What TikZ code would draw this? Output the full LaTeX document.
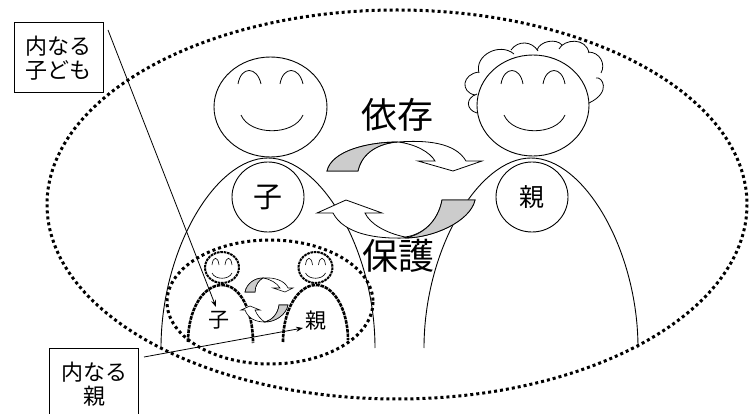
\documentclass[tikz,border=0pt]{standalone}
\usepackage{fontspec}
\setmainfont{Noto Sans CJK JP}
\usetikzlibrary{arrows.meta,shapes.geometric}
\tikzset{
  ink/.style={draw=black,line width=0.9pt},
  faceline/.style={draw=black,line width=0.8pt},
  dots/.style={draw=black,line width=3pt,dash pattern=on 3pt off 3pt},
  dashedbody/.style={draw=black,line width=2.6pt,dash pattern=on 3.6pt off 0.9pt},
  dashedhead/.style={draw=black,line width=2pt,dash pattern=on 2.6pt off 0.8pt},
  wordtag/.style={inner sep=0pt,align=center},
  corecircle/.style={draw=black,line width=0.9pt,fill=white,ellipse,minimum width=72pt,minimum height=70pt,inner sep=0pt},
  captionbox/.style={draw=black,line width=1pt,fill=white,anchor=north west,inner sep=0pt,align=center,
    minimum width=89pt,font=\fontsize{22}{23.5}\selectfont},
  turnfill/.style={fill=white,draw=black,line width=0.8pt,line join=miter},
  turnshade/.style={fill=black!20,draw=black,line width=0.8pt},
  pointer/.style={draw=black,line width=0.8pt,-{Stealth[length=7pt,width=5pt]}}
}
\begin{document}
\begin{tikzpicture}[x=1pt,y=-1pt]
\useasboundingbox (0,0) rectangle (752,414);
\clip (0,0) rectangle (752,414);

% outer boundary of the relationship
\draw[dots] (397,204.5) ellipse [x radius=350,y radius=194.5];

% child: body, chest circle and head
\draw[ink] (161,348) .. controls (161,250) and (215,158) .. (268,158)
  .. controls (321,158) and (375,250) .. (375,348);
\node[corecircle] (childcore) at (268,197) {};
\draw[ink,fill=white] (270.5,107) ellipse [x radius=56.5,y radius=50];
\draw[faceline] (238,84) .. controls (241,66) and (257,66) .. (261,84);
\draw[faceline] (280,84) .. controls (283,66) and (299,66) .. (303,84);
\draw[faceline] (241,115) .. controls (250,136) and (294,136) .. (303,115);

% parent: body, chest circle, hair and head
\draw[ink] (424,348) .. controls (424,250) and (478,158) .. (531,158)
  .. controls (584,158) and (638,250) .. (638,348);
\node[corecircle] (parentcore) at (532,197) {};
\draw[faceline] (477,113) .. controls (466,110) and (465,98) .. (477,94);
\draw[faceline] (475,95) .. controls (460,92) and (462,74) .. (479,72);
\draw[faceline] (479,73) .. controls (474,55) and (500,42) .. (514,54);
\draw[faceline] (511,50) .. controls (518,40) and (532,41) .. (538,51);
\draw[faceline] (537,50) .. controls (540,41) and (556,38) .. (562,45);
\draw[faceline] (559,49) .. controls (564,39) and (586,37) .. (589,53);
\draw[faceline] (588,52) .. controls (600,52) and (606,64) .. (601,73);
\draw[faceline] (596,78) .. controls (602,76) and (612,92) .. (589,103);
\draw[ink,fill=white] (533,105.5) ellipse [x radius=56,y radius=50.5];
\draw[faceline] (501,84) .. controls (504,66) and (520,66) .. (523,84);
\draw[faceline] (543,84) .. controls (546,66) and (562,66) .. (565,84);
\draw[faceline] (504,115) .. controls (513,136) and (556,136) .. (565,115);

% dependence arrow, upper
\path[turnfill] (327,171) .. controls (332,150) and (370,142) .. (398,142)
  .. controls (425,140) and (455,142) .. (466,161)
  -- (482,161) -- (453,171) -- (418,161) -- (435,161)
  .. controls (430,152) and (415,144) .. (398,142)
  .. controls (380,143) and (362,152) .. (358,171) -- cycle;
\path[turnshade] (327,171) .. controls (332,150) and (370,142) .. (398,142)
  .. controls (380,143) and (362,152) .. (358,171) -- cycle;

% protection arrow, lower
\path[turnfill] (475,200) .. controls (470,222) and (432,238) .. (405,238)
  .. controls (376,239) and (344,234) .. (333,213)
  -- (317,213) -- (346,200) -- (382,213) -- (365,213)
  .. controls (370,224) and (386,233) .. (405,237)
  .. controls (422,235) and (438,222) .. (442,200) -- cycle;
\path[turnshade] (475,200) .. controls (470,222) and (432,238) .. (405,238)
  .. controls (422,235) and (438,222) .. (442,200) -- cycle;

% inner pair
\draw[dots] (270,302) ellipse [x radius=103,y radius=62];
\draw[dashedbody] (188,342) .. controls (188,310) and (203,285) .. (222,285)
  .. controls (240,285) and (253,310) .. (253,343);
\draw[dashedbody] (283,342) .. controls (283,310) and (298,285) .. (316,285)
  .. controls (334,285) and (348,310) .. (348,340);
\draw[dashedhead,fill=white] (222,267.5) ellipse [x radius=17,y radius=15.5];
\draw[dashedhead,fill=white] (315.5,267.5) ellipse [x radius=17,y radius=15.5];
\draw[line width=0.6pt] (212,265) .. controls (213,256) and (218,256) .. (219,265);
\draw[line width=0.6pt] (225,265) .. controls (226,256) and (231,256) .. (232,265);
\draw[line width=0.6pt] (212,273) .. controls (215,280) and (229,280) .. (232,273);
\draw[line width=0.6pt] (305.5,265) .. controls (306.5,256) and (311.5,256) .. (312.5,265);
\draw[line width=0.6pt] (318.5,265) .. controls (319.5,256) and (324.5,256) .. (325.5,265);
\draw[line width=0.6pt] (305.5,273) .. controls (308.5,280) and (322.5,280) .. (325.5,273);

% small arrows between the inner pair
\path[turnfill,line width=0.6pt] (245,292) .. controls (247,283) and (255,278) .. (263,278)
  .. controls (275,277) and (285,281) .. (288,288)
  -- (293,288) -- (285,292) -- (273,288) -- (280,288)
  .. controls (277,283) and (270,279) .. (263,278)
  .. controls (259,280) and (255,285) .. (255,292) -- cycle;
\path[turnshade,line width=0.6pt] (245,292) .. controls (247,283) and (255,278) .. (263,278)
  .. controls (259,280) and (255,285) .. (255,292) -- cycle;
\path[turnfill,line width=0.6pt] (288,305) .. controls (286,315) and (275,322) .. (265,322)
  .. controls (255,322) and (248,318) .. (245,310)
  -- (241,310) -- (250,306) -- (260,310) -- (255,310)
  .. controls (257,315) and (261,320) .. (265,322)
  .. controls (272,320) and (278,314) .. (279,305) -- cycle;
\path[turnshade,line width=0.6pt] (288,305) .. controls (286,315) and (275,322) .. (265,322)
  .. controls (272,320) and (278,314) .. (279,305) -- cycle;

% labels
\node[wordtag,font=\fontsize{29}{29}\selectfont] (childword) at (268,197) {子};
\node[wordtag,font=\fontsize{25}{25}\selectfont] (parentword) at (532,197) {親};
\node[wordtag,font=\fontsize{36}{36}\selectfont] (depend) at (397,115) {依存};
\node[wordtag,font=\fontsize{36}{36}\selectfont] (protect) at (398,256) {保護};
\node[wordtag,font=\fontsize{21}{21}\selectfont] (innerchildword) at (219,320) {子};
\node[wordtag,font=\fontsize{21}{21}\selectfont] (innerparentword) at (316,321) {親};

% captions with their pointers
\node[captionbox,minimum height=70pt] (innerchildbox) at (13.5,22.5) {内なる\\子ども};
\node[captionbox,minimum height=71pt] (innerparentbox) at (49,348) {内なる\\親};
\coordinate (childstart) at (108,30);
\coordinate (parentstart) at (144,357);
\coordinate (childend) at (216,307);
\coordinate (parentend) at (303,328);
\draw[pointer] (childstart) -- (childend);
\draw[pointer] (parentstart) -- (parentend);
\end{tikzpicture}
\end{document}
